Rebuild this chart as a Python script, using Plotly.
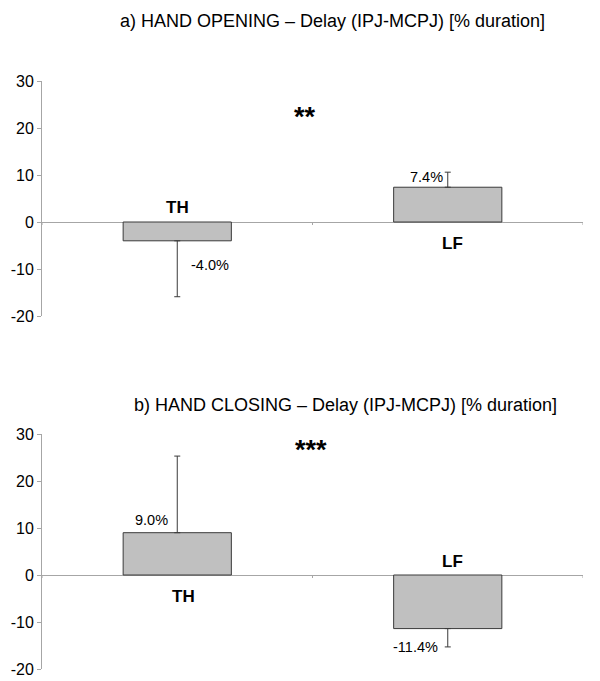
import plotly.graph_objects as go

# ---- data ----
categories = ["TH", "LF"]
opening_mean = [-4.0, 7.4]
opening_err_plus = [0.0, 3.2]
opening_err_minus = [11.9, 0.0]
closing_mean = [9.0, -11.4]
closing_err_plus = [16.3, 0.0]
closing_err_minus = [0.0, 3.9]
opening_title = "a) HAND OPENING \u2013 Delay (IPJ-MCPJ) [% duration]"
closing_title = "b) HAND CLOSING \u2013 Delay (IPJ-MCPJ) [% duration]"
opening_sig = "**"
closing_sig = "***"
y_ticks = [-20, -10, 0, 10, 20, 30]
y_tick_labels = ["-20", "-10", "0", "10", "20", "30"]

FONT = "Liberation Sans, Arial, sans-serif"
AX = "#a6a6a6"
EDGE = "#3a3a3a"

fig = go.Figure()

def add_bars(vals, ep, em, xa, ya):
    fig.add_trace(go.Bar(
        x=categories, y=vals, width=0.4,
        marker=dict(color="#c0c0c0", line=dict(color=EDGE, width=1)),
        error_y=dict(type="data", symmetric=False, array=ep, arrayminus=em,
                     color=EDGE, thickness=1, width=3),
        xaxis=xa, yaxis=ya, showlegend=False, hoverinfo="skip"))

add_bars(opening_mean, opening_err_plus, opening_err_minus, "x", "y")
add_bars(closing_mean, closing_err_plus, closing_err_minus, "x2", "y2")

yax = dict(range=[-20, 30], tickmode="array", tickvals=y_ticks, ticktext=y_tick_labels,
           showline=True, linecolor=AX, linewidth=1,
           ticks="outside", ticklen=4, tickcolor=AX, zeroline=True, zerolinecolor=AX,
           zerolinewidth=1, showgrid=False, tickfont=dict(family=FONT, size=16, color="black"),
           fixedrange=True, automargin=False)
xax = dict(type="category", showticklabels=False, showline=False, showgrid=False,
           zeroline=False, domain=[42/600, 583/600], range=[-0.5, 1.5], automargin=False,
           fixedrange=True)

fig.update_layout(
    template="none",
    width=600, height=681, autosize=False,
    margin=dict(l=0, r=0, t=0, b=0, pad=0),
    paper_bgcolor="white", plot_bgcolor="white",
    xaxis=dict(xax, anchor="y"),
    yaxis=dict(yax, domain=[1-316/681, 1-81/681], anchor="x"),
    xaxis2=dict(xax, anchor="y2"),
    yaxis2=dict(yax, domain=[1-669/681, 1-434/681], anchor="x2"),
    font=dict(family=FONT, color="black"),
)

ann = []
def txt(text, xref, yref, x, y, size=16, bold=False, xshift=0, xanchor="center", yanchor="middle"):
    ann.append(dict(text=f"<b>{text}</b>" if bold else text, x=x, y=y, xref=xref, yref=yref,
                    showarrow=False, xshift=xshift, xanchor=xanchor, yanchor=yanchor,
                    font=dict(family=FONT, size=size, color="black")))

# titles
txt(opening_title, "paper", "paper", 332/600, 1-21/681, size=18)
txt(closing_title, "paper", "paper", 345/600, 1-405/681, size=18)

# top panel labels
txt(categories[0], "x", "y", categories[0], 3.0, size=17, bold=True)
txt(f"{opening_mean[0]:.1f}%", "x", "y", categories[0], -9.1, size=14.5, xshift=33)
txt(categories[1], "x", "y", categories[1], -4.5, size=17, bold=True, xshift=5)
txt(f"{opening_mean[1]:.1f}%", "x", "y", categories[1], 9.6, size=14.5, xshift=-21)
txt(opening_sig, "paper", "y", 305/600, 22.4, size=27, bold=True)

# bottom panel labels
txt(categories[0], "x2", "y2", categories[0], -4.5, size=17, bold=True, xshift=6)
txt(f"{closing_mean[0]:.1f}%", "x2", "y2", categories[0], 11.7, size=14.5, xshift=-26)
txt(categories[1], "x2", "y2", categories[1], 2.8, size=17, bold=True, xshift=5)
txt(f"{closing_mean[1]:.1f}%", "x2", "y2", categories[1], -15.3, size=14.5, xshift=-32)
txt(closing_sig, "paper", "y2", 311/600, 26.6, size=27, bold=True)

fig.update_layout(annotations=ann)

# small tick marks between categories on the zero line
shapes = []
for xa, ya in (("x", "y"), ("x2", "y2")):
    for b in [i - 0.5 for i in range(len(categories) + 1)]:
        shapes.append(dict(type="line", xref=xa, yref=ya, x0=b, x1=b,
                           ysizemode="pixel", yanchor=0, y0=0, y1=-3,
                           line=dict(color=AX, width=1)))
fig.update_layout(shapes=shapes)

fig.write_html("out.html", config={"displayModeBar": False, "staticPlot": True},
               post_script="document.body.style.margin='0';document.body.style.overflow='hidden';")
